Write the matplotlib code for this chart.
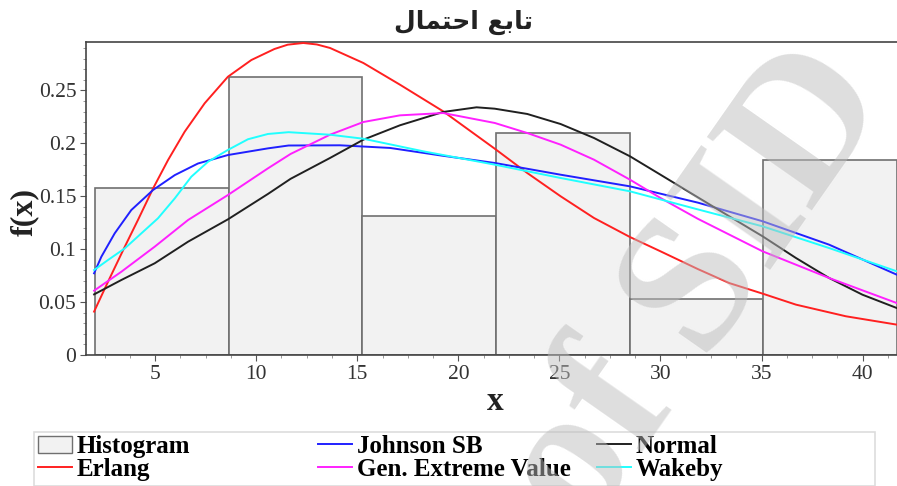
import matplotlib.pyplot as plt
from matplotlib.patches import Rectangle
from matplotlib.lines import Line2D
from matplotlib.ticker import MultipleLocator, FuncFormatter

# histogram (bin left edges, common width, density)
bin_left = [2.03, 8.64, 15.25, 21.86, 28.47, 35.08]
bin_width = 6.61
bin_height = [0.1576, 0.2625, 0.1314, 0.2095, 0.0526, 0.184]

# fitted pdfs
erlang_x = [1.98, 2.67, 3.5, 4.15, 4.9, 5.64, 6.46, 7.45, 8.6, 9.76, 10.9, 11.56,
            12.33, 13.0, 13.65, 15.3, 17.11, 19.25, 21.8, 23.41, 25.06, 26.71,
            28.49, 30.0, 31.85, 33.4, 35.1, 36.7, 39.17, 41.69]
erlang_y = [0.041, 0.0693, 0.1024, 0.1276, 0.1575, 0.1843, 0.211, 0.2379, 0.263,
            0.2788, 0.2892, 0.2933, 0.2949, 0.2935, 0.2902, 0.276, 0.2555, 0.2303,
            0.195, 0.172, 0.15, 0.1295, 0.1115, 0.098, 0.0812, 0.068, 0.0577,
            0.0476, 0.0366, 0.0287]

johnson_x = [1.98, 2.34, 3.0, 3.82, 4.9, 5.97, 7.12, 8.6, 10.58, 11.6, 14.14,
             16.62, 19.09, 21.8, 25.06, 28.49, 31.85, 35.05, 38.34, 41.69]
johnson_y = [0.0772, 0.0929, 0.115, 0.137, 0.156, 0.170, 0.181, 0.189, 0.1953,
             0.198, 0.1982, 0.1957, 0.1887, 0.1815, 0.1704, 0.1594, 0.144, 0.1264,
             0.1043, 0.0759]

wakeby_x = [1.98, 2.67, 3.5, 4.32, 5.14, 5.97, 6.79, 7.62, 8.6, 9.59, 10.58, 11.6,
            13.65, 15.3, 18.27, 21.8, 25.06, 28.49, 31.85, 35.05, 38.34, 41.69]
wakeby_y = [0.0803, 0.0898, 0.1008, 0.115, 0.1292, 0.148, 0.1685, 0.1827, 0.1938,
            0.2039, 0.2089, 0.2106, 0.2082, 0.2044, 0.1925, 0.1799, 0.1673, 0.1547,
            0.1376, 0.1216, 0.1011, 0.0791]

gev_x = [1.98, 3.33, 4.98, 6.63, 8.6, 10.58, 11.7, 13.65, 15.3, 17.11, 19.25,
         21.8, 23.41, 25.06, 26.71, 28.49, 30.0, 31.85, 35.05, 38.34, 41.69]
gev_y = [0.0608, 0.0787, 0.1024, 0.1276, 0.1512, 0.1764, 0.19, 0.2082, 0.2202,
         0.2265, 0.2287, 0.2193, 0.2098, 0.1988, 0.1846, 0.1657, 0.1484, 0.1287,
         0.098, 0.0728, 0.0491]

normal_x = [1.98, 3.33, 4.98, 6.63, 8.6, 10.58, 11.7, 13.65, 15.3, 17.11, 19.25,
            20.9, 21.8, 23.41, 25.06, 26.71, 28.49, 30.0, 31.85, 33.4, 35.05,
            36.7, 38.34, 39.99, 41.69]
normal_y = [0.0573, 0.0709, 0.0867, 0.1071, 0.1282, 0.1522, 0.1665, 0.1862, 0.2035,
            0.2171, 0.2297, 0.2341, 0.2328, 0.2278, 0.2183, 0.2051, 0.1878, 0.1704,
            0.149, 0.1311, 0.1122, 0.0917, 0.0728, 0.057, 0.0444]

yticks = [0, 0.05, 0.1, 0.15, 0.2, 0.25]
xticks = [5, 10, 15, 20, 25, 30, 35, 40]

# "تابع احتمال" in presentation forms, visual order (matplotlib has no shaping)
title = '\uFEDD\uFE8E\uFEE4\uFE98\uFEA3\uFE8D \uFECA\uFE91\uFE8E\uFE97'

serif = 'Liberation Serif'

fig = plt.figure(figsize=(8.97, 4.86), dpi=100)
ax = fig.add_axes([86/897, 1 - 355/486, 1 - 86/897, (355 - 41.5)/486])

ax.bar(bin_left, bin_height, width=bin_width, align='edge',
       facecolor='#f2f2f2', edgecolor='#707070', linewidth=1.2, zorder=1)

lw = 1.4
ax.plot(erlang_x, erlang_y, color='#ff2020', lw=lw, zorder=3)
ax.plot(johnson_x, johnson_y, color='#2020ff', lw=lw, zorder=3)
ax.plot(normal_x, normal_y, color='#202020', lw=lw, zorder=3)
ax.plot(gev_x, gev_y, color='#ff20ff', lw=lw, zorder=3)
ax.plot(wakeby_x, wakeby_y, color='#20ffff', lw=lw, zorder=3)

ax.set_xlim(1.58, 41.7)
ax.set_ylim(0, 0.2963)
ax.set_xticks(xticks)
ax.set_yticks(yticks)
ax.xaxis.set_minor_locator(MultipleLocator(1.25))
ax.yaxis.set_minor_locator(MultipleLocator(0.01))
ax.yaxis.set_major_formatter(FuncFormatter(lambda v, p: f'{v:g}'))
ax.tick_params(which='major', length=4, color='#555555', labelsize=15.5,
               labelcolor='#333333', pad=3)
ax.tick_params(which='minor', length=2, color='#888888')
for lab in ax.get_xticklabels() + ax.get_yticklabels():
    lab.set_family(serif)
for s in ['left', 'bottom', 'top']:
    ax.spines[s].set_color('#444444')
    ax.spines[s].set_linewidth(1.2)
ax.spines['right'].set_visible(False)

fig.text(463/897, 1 - 22/486, title, ha='center', va='center',
         fontsize=18, fontweight='bold', family='DejaVu Sans', color='#222222')
fig.text(24/897, 1 - 212/486, 'f(x)', rotation=90, ha='center', va='center',
         fontsize=23, fontweight='bold', family=serif, color='#222222')
fig.text(495/897, 1 - 401/486, 'x', ha='center', va='center',
         fontsize=24, fontweight='bold', family=serif, color='#222222')

# legend frame + three columns
fig.patches.append(Rectangle((34/897, 0), (875 - 34)/897, 1 - 432/486,
                             transform=fig.transFigure, facecolor='white',
                             edgecolor='#dddddd', linewidth=1.2, zorder=0))
leg_kw = dict(frameon=False, prop={'family': serif, 'weight': 'bold', 'size': 18},
              handlelength=1.35, handletextpad=0.2, labelspacing=0.0,
              borderpad=0, borderaxespad=0, loc='upper left')
col1 = [Rectangle((0, 0), 1, 1, facecolor='#f2f2f2', edgecolor='#707070'),
        Line2D([], [], color='#ff2020', lw=lw)]
col2 = [Line2D([], [], color='#2020ff', lw=lw), Line2D([], [], color='#ff20ff', lw=lw)]
col3 = [Line2D([], [], color='#202020', lw=lw), Line2D([], [], color='#20ffff', lw=lw)]
fig.legend(col1, ['Histogram', 'Erlang'], bbox_to_anchor=(38/897, 1 - 435/486), **leg_kw)
fig.legend(col2, ['Johnson SB', 'Gen. Extreme Value'], bbox_to_anchor=(318/897, 1 - 435/486), **leg_kw)
fig.legend(col3, ['Normal', 'Wakeby'], bbox_to_anchor=(597/897, 1 - 435/486), **leg_kw)

# watermark
fig.text(700/897, 1 - 290/486, 'of SID', rotation=55, ha='center', va='center',
         rotation_mode='anchor', fontsize=140, fontweight='bold', family=serif,
         color='#bdbdbd', alpha=0.5, zorder=10)

fig.savefig('out.png', dpi=100)
